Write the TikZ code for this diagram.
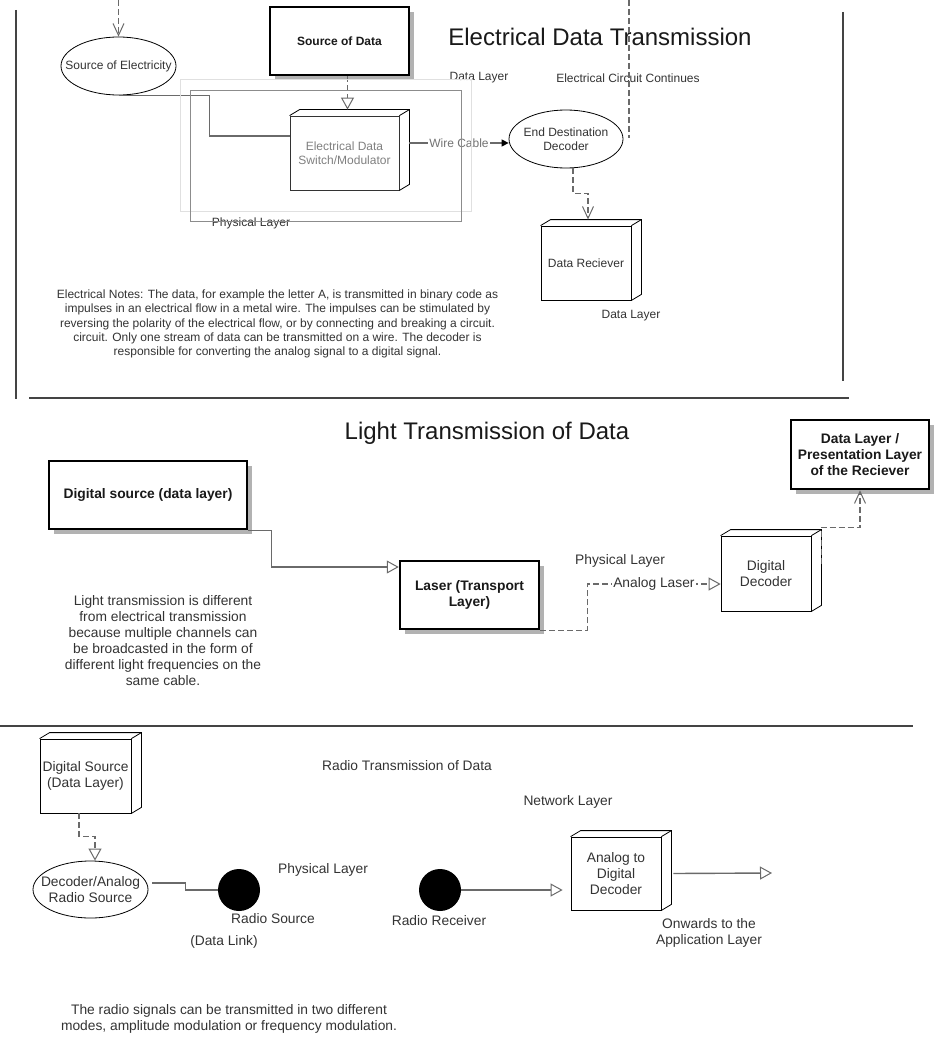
\documentclass[tikz,border=0pt]{standalone}
\usepackage{fontspec}
\setmainfont{Liberation Sans}
\usetikzlibrary{arrows.meta,shapes.geometric,calc,shadows}
\definecolor{txt}{HTML}{333333}
\definecolor{conn}{HTML}{6A6A6A}
\definecolor{sect}{HTML}{444444}
\newcommand\cubeside[1]{%
  \draw[line width=0.8pt,black] (#1.north west) -- ++(10,-6) -- ($(#1.north east)+(10,-6)$) -- ($(#1.south east)+(10,-6)$) -- (#1.south east);
  \draw[line width=0.8pt,black] (#1.north east) -- ++(10,-6);
}
\tikzset{
  lbl/.style={text=txt, font=\fontsize{12}{14}\selectfont, inner sep=0pt, align=center},
  lblm/.style={text=txt, font=\fontsize{13.8}{16}\selectfont, inner sep=0pt, align=center},
  ttl/.style={text=black!90, font=\fontsize{24}{28}\selectfont, inner sep=0pt},
  thickbox/.style={draw=black, line width=2.5pt, fill=white, inner sep=0pt, align=center,
    general shadow={fill=black!30, shadow xshift=5pt, shadow yshift=-5pt}},
  cubebox/.style={draw=black, line width=0.8pt, fill=white, inner sep=0pt, align=center},
  ell/.style={ellipse, draw=black, line width=0.8pt, fill=white, inner sep=0pt},
  dconn/.style={draw=conn, line width=1.5pt, dash pattern=on 6pt off 3pt},
  sconn/.style={draw=conn, line width=1.4pt},
  hollow/.style={-{Triangle[length=12pt,width=13pt,line width=1pt,fill=white]}},
  barb/.style={-{Straight Barb[length=12pt,width=11pt,line width=1pt]}},
  sectline/.style={draw=sect, line width=2.5pt},
}
\begin{document}
\begin{tikzpicture}[x=1pt,y=-1pt]
\useasboundingbox (0,0) rectangle (950,1054);

% section lines
\draw[sectline] (16,10) -- (16,399);
\draw[sectline] (843,12) -- (843,381);
\draw[sectline] (29,398) -- (849,398);
\draw[sectline] (0,726) -- (913,726);

% ===== Electrical section =====
\node[ttl] (t1) at (600,37) {Electrical Data Transmission};
\node[ell, minimum width=115pt, minimum height=58pt, label={[lbl]center:Source of Electricity}] (srcE) at (118.5,66) {};
\node[thickbox, minimum width=139pt, minimum height=68pt, font=\bfseries\fontsize{12}{14}\selectfont, text=black!90] (sod) at (339.5,41) {Source of Data};
\node[cubebox, minimum width=109pt, minimum height=74pt, font=\fontsize{12}{14}\selectfont, text=black!50, draw=black!80] (sw) at (344.5,153) {Electrical Data\\Switch/Modulator};
\cubeside{sw}
\node[ell, minimum width=114pt, minimum height=58pt, label={[lbl]center:End Destination\\Decoder}] (endD) at (566,139) {};
\node[cubebox, lbl, minimum width=90pt, minimum height=74pt] (recv) at (586,263) {Data Reciever};
\cubeside{recv}

\node[lbl] (l1) at (479,78) {Data Layer};
\node[lbl] (l2) at (628,78) {Electrical Circuit Continues};
\node[lbl] (l3) at (251,223) {Physical Layer};
\node[lbl] (l4) at (631,316) {Data Layer};
\node[lbl, font=\fontsize{12}{14.2}\selectfont] (notes1) at (277.5,324) {Electrical Notes: The data, for example the letter A, is transmitted in binary code as\\impulses in an electrical flow in a metal wire. The impulses can be stimulated by\\reversing the polarity of the electrical flow, or by connecting and breaking a circuit.\\circuit. Only one stream of data can be transmitted on a wire. The decoder is\\responsible for converting the analog signal to a digital signal.};

% connectors
\coordinate (topin) at (118.5,0);
\draw[dconn,barb] (topin) -- (srcE.north);
\coordinate (a1) at ($(sod.south)+(8,0)$);
\coordinate (swtop) at ($(sw.north)+(0,-6)$);
\draw[dconn,hollow] (a1) -- (a1 |- swtop);
\draw[sconn] (srcE.south) -- ++(91,0) |- ($(sw.west)+(0,-17)$);
\coordinate (swR) at ($(sw.east)+(10,-10)$);
\draw[sconn,-{Triangle[length=7pt,width=7pt,color=black]}] (swR) -- (swR -| endD.west)
  node[midway, fill=white, lbl, text=black!55, inner sep=1pt] {Wire Cable};
\draw[draw=black!12, line width=1pt] (180,80) rectangle (471,211);
\draw[draw=black!45, line width=0.8pt] (190,90) rectangle (461,221);
\coordinate (e1) at ($(endD.south)+(7,0)$);
\draw[dconn,barb] (e1) -- ++(0,25) -| ($(recv.north)+(2,-6)$);
\coordinate (c1) at (629,0);
\coordinate (c2) at (629,138);
\draw[dconn] (c1) -- (c2);

% ===== Light section =====
\node[ttl] (t2) at (487,433) {Light Transmission of Data};
\node[thickbox, minimum width=198pt, minimum height=68pt, font=\bfseries\fontsize{13.8}{16}\selectfont, text=black!90] (ds) at (148,495) {Digital source (data layer)};
\node[thickbox, minimum width=139pt, minimum height=68pt, font=\bfseries\fontsize{13.8}{16}\selectfont, text=black!90] (laser) at (469.5,595) {Laser (Transport\\Layer)};
\node[thickbox, minimum width=138pt, minimum height=69pt, font=\bfseries\fontsize{13.8}{16}\selectfont, text=black!90] (dl) at (860,454.5) {Data Layer /\\Presentation Layer\\of the Reciever};
\node[cubebox, lblm, minimum width=90pt, minimum height=75pt] (dd) at (766,573.5) {Digital\\Decoder};
\cubeside{dd}
\node[lblm] (l5) at (620,561) {Physical Layer};
\node[lblm] (notes2) at (163,641) {Light transmission is different\\from electrical transmission\\because multiple channels can\\be broadcasted in the form of\\different light frequencies on the\\same cable.};

\draw[sconn,hollow,line width=1.2pt] (ds.south east) -- ++(23,0) |- ($(laser.west)+(0,-28)$);
\draw[dconn,hollow] (laser.south east) -- ++(47,0) |- ($(dd.west)+(0,10.5)$)
  node[pos=0.75, fill=white, lblm, inner sep=1pt] {Analog Laser};
\coordinate (d1) at ($(dd.east)+(10,-9.5)$);
\draw[dconn,barb] (d1) |- ($(dl.south)+(0,37)$) -- (dl.south);

% ===== Radio section =====
\node[lblm] (t3) at (407,766) {Radio Transmission of Data};
\node[cubebox, lblm, minimum width=91pt, minimum height=74pt] (dsrc) at (85.5,776) {Digital Source\\(Data Layer)};
\cubeside{dsrc}
\node[ell, minimum width=115pt, minimum height=57pt, label={[lblm]center:Decoder/Analog\\Radio Source}] (dec) at (90.5,889.5) {};
\node[circle, fill=black, minimum size=42pt, inner sep=0pt] (rsrc) at (239,890) {};
\node[circle, fill=black, minimum size=42pt, inner sep=0pt] (rrcv) at (440,890) {};
\node[cubebox, lblm, minimum width=90pt, minimum height=73pt] (a2d) at (616,873.5) {Analog to\\Digital\\Decoder};
\cubeside{a2d}

\node[lblm] (l6) at (568,802) {Network Layer};
\node[lblm] (l7) at (323,870) {Physical Layer};
\node[lblm] (l8) at (273,919) {Radio Source};
\node[lblm] (l9) at (224,942) {(Data Link)};
\node[lblm] (l10) at (439,921) {Radio Receiver};
\node[lblm] (l11) at (709,933) {Onwards to the\\Application Layer};
\node[lblm] (notes3) at (229,1019) {The radio signals can be transmitted in two different\\modes, amplitude modulation or frequency modulation.};

\coordinate (r1) at ($(dsrc.south)+(-6.5,0)$);
\draw[dconn,hollow] (r1) -- ++(0,23) -| ($(dec.north)+(4.5,0)$);
\coordinate (r2) at ($(dec.east)+(4,-6.5)$);
\draw[sconn] (r2) -- ++(33,0) |- (rsrc.west);
\draw[sconn,hollow] (rrcv.east) -- ($(rrcv.east -| a2d.west)+(-8,0)$);
\coordinate (onw) at (772,873);
\draw[sconn,hollow] ($(a2d.east)+(12,0)$) -- (onw);
\end{tikzpicture}
\end{document}
